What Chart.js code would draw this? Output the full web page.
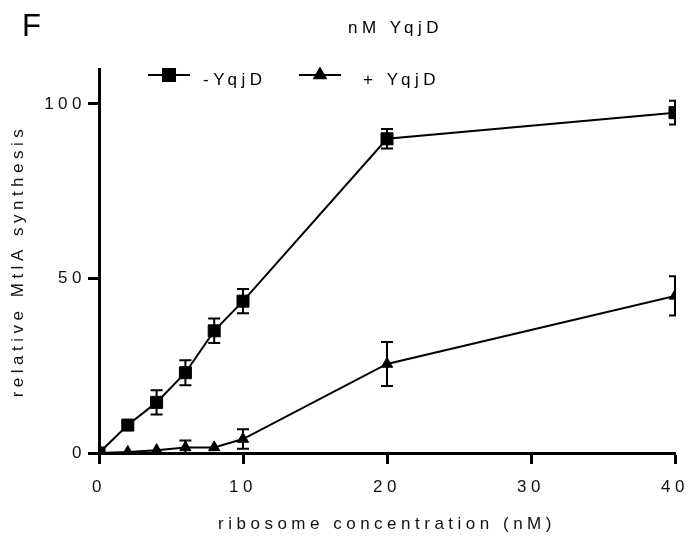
<!DOCTYPE html>
<html lang="en">
<head>
<meta charset="UTF-8">
<script src="https://cdn.jsdelivr.net/npm/chart.js@4"></script>
<title>relative MtlA synthesis</title>
<style>
  html, body { margin: 0; padding: 0; background: #fff; }
</style>
</head>
<body>
<canvas id="grafico" width="700" height="547"></canvas>
<script>
// ribosome concentration (nM)
const conc = [0, 2, 4, 6, 8, 10, 20, 40];
// -YqjD
const minusYqjD = [0, 8, 14.5, 23, 35, 43.5, 90, 97.5];
const minusYqjDErr = [0, 1, 3.5, 3.6, 3.5, 3.5, 2.8, 3.4];
// + YqjD
const plusYqjD = [0, 0.3, 0.8, 1.6, 1.6, 4, 25.5, 45];
const plusYqjDErr = [0, 0, 0, 2, 0, 2.8, 6.3, 5.6];

const xTicks = [0, 10, 20, 30, 40];
const yTicks = [0, 50, 100];

const FONT = "'Liberation Sans', Arial, sans-serif";
const SPACING = '4.5px';

// error bars, drawn under the markers
const errorBars = {
  id: 'errorBars',
  beforeDatasetsDraw(chart) {
    const { ctx, chartArea, scales: { x, y } } = chart;
    ctx.save();
    ctx.beginPath();
    ctx.rect(chartArea.left, chartArea.top - 10, chartArea.width + 1, chartArea.height + 10);
    ctx.clip();
    ctx.strokeStyle = '#000';
    ctx.lineWidth = 2;
    chart.data.datasets.forEach(ds => {
      ds.data.forEach((p, i) => {
        const e = ds.errors[i];
        if (!e) return;
        const px = x.getPixelForValue(p.x);
        const top = y.getPixelForValue(p.y + e);
        const bot = y.getPixelForValue(p.y - e);
        ctx.beginPath();
        ctx.moveTo(px, top); ctx.lineTo(px, bot);
        ctx.moveTo(px - 6, top); ctx.lineTo(px + 6, top);
        ctx.moveTo(px - 6, bot); ctx.lineTo(px + 6, bot);
        ctx.stroke();
      });
    });
    ctx.restore();
  }
};

// letter spacing like the prism export
const spacing = {
  id: 'spacing',
  beforeDraw(chart) { chart.ctx.letterSpacing = SPACING; }
};

// panel letter, title and the inline legend
const decor = {
  id: 'decor',
  afterDraw(chart) {
    const ctx = chart.ctx;
    ctx.save();
    ctx.fillStyle = '#000';
    ctx.strokeStyle = '#000';
    ctx.textBaseline = 'alphabetic';
    ctx.textAlign = 'left';

    ctx.letterSpacing = '0px';
    ctx.font = '31px ' + FONT;
    ctx.fillText('F', 22, 36);

    ctx.letterSpacing = SPACING;
    ctx.font = '17px ' + FONT;
    ctx.fillText('nM YqjD', 348, 33);

    const items = [
      { ds: chart.data.datasets[0], lx: 148, tx: 203 },
      { ds: chart.data.datasets[1], lx: 299, tx: 363 }
    ];
    items.forEach(it => {
      ctx.lineWidth = 2;
      ctx.beginPath();
      ctx.moveTo(it.lx, 75); ctx.lineTo(it.lx + 42, 75);
      ctx.stroke();
      Chart.helpers.drawPoint(ctx, {
        pointStyle: it.ds.pointStyle,
        radius: it.ds.pointRadius,
        rotation: 0,
        borderWidth: 1
      }, it.lx + 21, 75);
      ctx.fill();
      ctx.fillText(it.ds.label, it.tx, 85);
    });
    ctx.restore();
  }
};

new Chart(document.getElementById('grafico'), {
  type: 'line',
  data: {
    datasets: [
      {
        label: '-YqjD',
        data: conc.map((c, i) => ({ x: c, y: minusYqjD[i] })),
        errors: minusYqjDErr,
        borderColor: '#000',
        backgroundColor: '#000',
        borderWidth: 2,
        pointStyle: 'rect',
        pointRadius: 8.5,
        pointBorderWidth: 1,
        pointBorderColor: '#000',
        pointBackgroundColor: '#000'
      },
      {
        label: '+ YqjD',
        data: conc.map((c, i) => ({ x: c, y: plusYqjD[i] })),
        errors: plusYqjDErr,
        borderColor: '#000',
        backgroundColor: '#000',
        borderWidth: 2,
        pointStyle: 'triangle',
        pointRadius: 6.5,
        pointBorderWidth: 1,
        pointBorderColor: '#000',
        pointBackgroundColor: '#000'
      }
    ]
  },
  options: {
    responsive: false,
    animation: false,
    devicePixelRatio: 1,
    layout: { padding: { top: 69, right: 25, left: 0, bottom: 0 } },
    plugins: {
      legend: { display: false },
      title: { display: false },
      tooltip: { enabled: false }
    },
    scales: {
      x: {
        type: 'linear',
        min: 0,
        max: 40,
        afterFit(s) { s.height = 94; },
        afterBuildTicks(s) { s.ticks = xTicks.map(v => ({ value: v })); },
        grid: { drawOnChartArea: false, tickLength: 11, tickWidth: 3, color: '#000' },
        border: { display: true, width: 3, color: '#000' },
        ticks: { color: '#111', padding: 13, maxRotation: 0, font: { family: FONT, size: 17 } },
        title: {
          display: true,
          text: 'ribosome concentration (nM)',
          color: '#111',
          padding: { top: 12, bottom: 12 },
          font: { family: FONT, size: 17 }
        }
      },
      y: {
        type: 'linear',
        min: 0,
        max: 110,
        afterFit(s) { s.width = 99; },
        afterBuildTicks(s) { s.ticks = yTicks.map(v => ({ value: v })); },
        grid: { drawOnChartArea: false, tickLength: 11, tickWidth: 3, color: '#000' },
        border: { display: true, width: 3, color: '#000' },
        ticks: { color: '#111', padding: 2, font: { family: FONT, size: 17 } },
        title: {
          display: true,
          text: 'relative MtlA synthesis',
          color: '#111',
          padding: { top: 8, bottom: 8 },
          font: { family: FONT, size: 17 }
        }
      }
    }
  },
  plugins: [spacing, errorBars, decor]
});
</script>
</body>
</html>
